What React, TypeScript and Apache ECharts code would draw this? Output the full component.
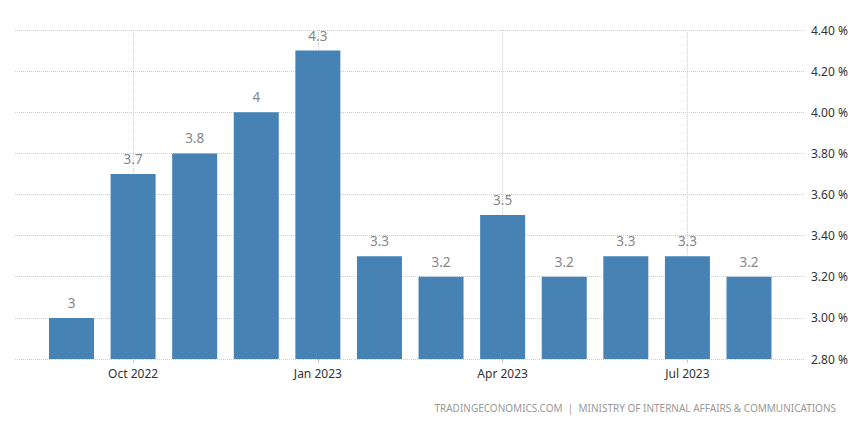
import React, { useEffect, useRef } from "react";
import * as echarts from "echarts";

const categories = [
  "Sep 2022", "Oct 2022", "Nov 2022", "Dec 2022", "Jan 2023", "Feb 2023",
  "Mar 2023", "Apr 2023", "May 2023", "Jun 2023", "Jul 2023", "Aug 2023",
];
const values = [3, 3.7, 3.8, 4, 4.3, 3.3, 3.2, 3.5, 3.2, 3.3, 3.3, 3.2];
const shownLabels = ["Oct 2022", "Jan 2023", "Apr 2023", "Jul 2023"];
const sourceText = "TRADINGECONOMICS.COM  |  MINISTRY OF INTERNAL AFFAIRS & COMMUNICATIONS";

const FONT = "'Noto Sans', 'Open Sans', sans-serif";

export default function App() {
  const ref = useRef<HTMLDivElement>(null);
  useEffect(() => {
    if (!ref.current) return;
    const chart = echarts.init(ref.current, null, { renderer: "svg" });
    const top = 22;
    const bottom = 59;
    chart.setOption({
      animation: false,
      textStyle: { fontFamily: FONT },
      grid: [
        { left: 7, right: 51, top, bottom },
        { left: 32.7, right: 76.2, top, bottom },
      ],
      xAxis: [
        { type: "category", gridIndex: 0, data: categories, show: false },
        {
          type: "category",
          gridIndex: 1,
          data: categories,
          axisLine: { show: false },
          axisTick: {
            show: true,
            alignWithLabel: true,
            length: 4,
            interval: (i: number) => shownLabels.includes(categories[i]),
            lineStyle: { color: "#c8c8c8" },
          },
          axisLabel: {
            interval: (i: number) => shownLabels.includes(categories[i]),
            color: "#333",
            fontSize: 12,
            margin: 8,
            fontFamily: FONT,
          },
          splitLine: { show: false },
        },
      ],
      yAxis: [
        {
          type: "value",
          gridIndex: 0,
          position: "right",
          min: 2.8,
          max: 4.4,
          interval: 0.2,
          axisLine: { show: false },
          axisTick: { show: false },
          axisLabel: {
            formatter: (v: number) => v.toFixed(2) + " %",
            color: "#333",
            fontSize: 12,
            margin: 6,
            fontFamily: FONT,
          },
          splitLine: { show: true, lineStyle: { color: "#cfcfcf", type: "dotted", width: 1 } },
        },
        {
          type: "value",
          gridIndex: 1,
          min: 2.8,
          max: 4.4,
          interval: 0.2,
          show: false,
          splitLine: { show: false },
        },
      ],
      series: [
        {
          type: "bar",
          xAxisIndex: 1,
          yAxisIndex: 1,
          data: values,
          barWidth: 45,
          itemStyle: { color: "#4682B4" },
          label: {
            show: true,
            position: "top",
            distance: 8,
            color: "#888",
            fontSize: 13.5,
            fontFamily: FONT,
          },
          markLine: {
            silent: true,
            symbol: "none",
            label: { show: false },
            lineStyle: { color: "#d0d0d0", type: "dotted", width: 1 },
            data: shownLabels.map((c) => ({ xAxis: c })),
            z: 0,
          },
          z: 2,
        },
      ],
      graphic: [
        {
          type: "text",
          right: 20,
          top: 395,
          style: {
            text: sourceText,
            fill: "#999",
            fontSize: 10,
            fontFamily: FONT,
          },
        },
      ],
    });
    return () => chart.dispose();
  }, []);
  return <div ref={ref} style={{ width: 848, height: 410 }} />;
}
